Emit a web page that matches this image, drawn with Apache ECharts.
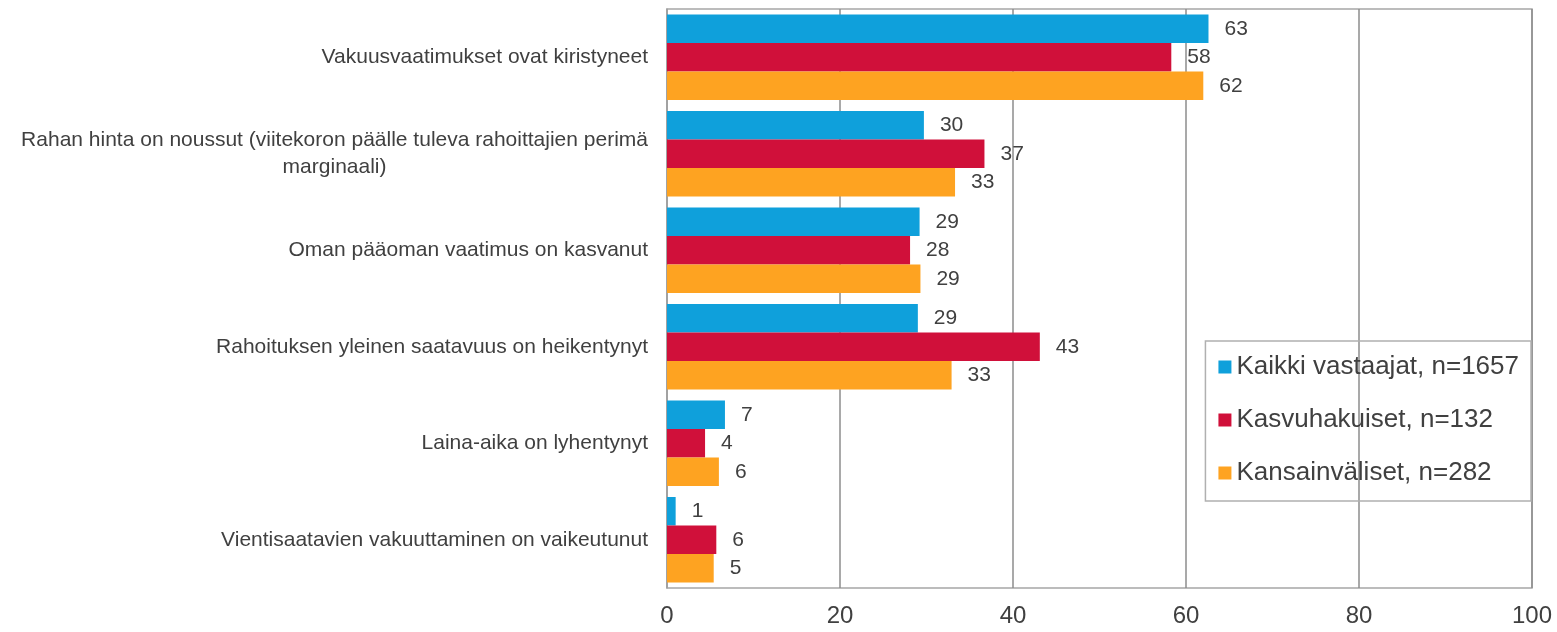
<!DOCTYPE html>
<html>
<head>
<meta charset="utf-8">
<script src="https://cdn.jsdelivr.net/npm/echarts@6/dist/echarts.min.js"></script>
<style>
  html, body { margin: 0; padding: 0; background: #fff; }
  #chart { width: 1557px; height: 632px; }
</style>
</head>
<body>
<div id="chart"></div>
<script>
var categories = [
  "Vakuusvaatimukset ovat kiristyneet",
  "Rahan hinta on noussut (viitekoron päälle tuleva rahoittajien perimä\nmarginaali)",
  "Oman pääoman vaatimus on kasvanut",
  "Rahoituksen yleinen saatavuus on heikentynyt",
  "Laina-aika on lyhentynyt",
  "Vientisaatavien vakuuttaminen on vaikeutunut"
]
var seriesNames = ["Kaikki vastaajat, n=1657", "Kasvuhakuiset, n=132", "Kansainväliset, n=282"]
var kaikki = [62.6, 29.7, 29.2, 29.0, 6.7, 1.0]
var kasvu = [58.3, 36.7, 28.1, 43.1, 4.4, 5.7]
var kansainvaliset = [62.0, 33.3, 29.3, 32.9, 6.0, 5.4]
var xTicks = [0, 20, 40, 60, 80, 100]

var colors = ["#0fa0db", "#d0103a", "#fea321"]
var textColor = "#404040"

var myChart = echarts.init(document.getElementById("chart"))

function makeSeries(name, data, color) {
  return {
    name: name,
    type: "bar",
    data: data,
    barWidth: 28.5,
    barGap: "0%",
    itemStyle: { color: color },
    label: {
      show: true,
      position: "right",
      distance: 16,
      color: textColor,
      fontSize: 21,
      fontFamily: "Liberation Sans",
      formatter: function (p) {
        return Math.round(p.value)
      }
    }
  }
}

var option = {
  backgroundColor: "#fff",
  animation: false,
  textStyle: { fontFamily: "Liberation Sans" },
  grid: {
    left: 667,
    right: 25,
    top: 9,
    bottom: 44,
    show: true,
    borderColor: "#a6a6a6",
    borderWidth: 1.5
  },
  legend: {
    orient: "vertical",
    right: 26,
    top: 341,
    itemWidth: 13,
    itemHeight: 13,
    itemGap: 25,
    padding: [12, 12, 14, 13],
    borderColor: "#b0b0b0",
    borderWidth: 1.5,
    icon: "rect",
    textStyle: {
      color: textColor,
      fontSize: 26,
      lineHeight: 28,
      fontFamily: "Liberation Sans"
    },
    data: seriesNames
  },
  xAxis: {
    type: "value",
    min: xTicks[0],
    max: xTicks[xTicks.length - 1],
    interval: 20,
    axisLine: { show: false },
    axisTick: { show: false },
    splitLine: { lineStyle: { color: "#8c8c8c", width: 1.5 } },
    axisLabel: {
      color: textColor,
      fontSize: 24,
      margin: 16,
      fontFamily: "Liberation Sans"
    }
  },
  yAxis: {
    type: "category",
    inverse: true,
    data: categories,
    axisLine: { show: true, lineStyle: { color: "#a6a6a6", width: 1.5 } },
    axisTick: { show: false },
    axisLabel: {
      margin: 19,
      align: "right",
      formatter: function (v) {
        return "{c|" + v + "}"
      },
      rich: {
        c: {
          align: "center",
          color: textColor,
          fontSize: 21,
          lineHeight: 27,
          fontFamily: "Liberation Sans"
        }
      }
    }
  },
  series: [
    makeSeries(seriesNames[0], kaikki, colors[0]),
    makeSeries(seriesNames[1], kasvu, colors[1]),
    makeSeries(seriesNames[2], kansainvaliset, colors[2])
  ]
}

myChart.setOption(option)
</script>
</body>
</html>
